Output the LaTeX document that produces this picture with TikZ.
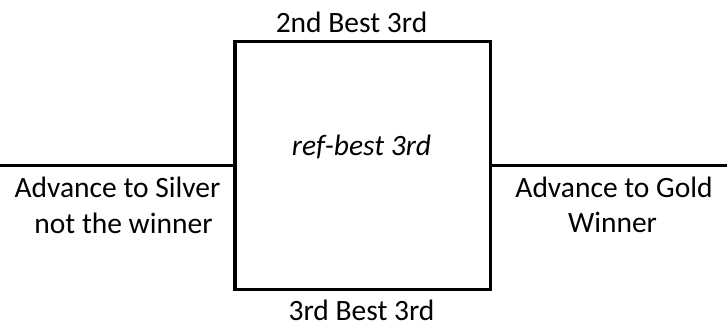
\documentclass[tikz,border=0pt]{standalone}
\usepackage{fontspec}
\setmainfont{Carlito}
\begin{document}
\begin{tikzpicture}[x=1pt,y=-1pt,
  lbl/.style={font=\fontsize{29.5}{36}\selectfont, inner sep=0pt, anchor=base},
  conn/.style={line width=3.2pt}]
\useasboundingbox (0,0) rectangle (727,324);
\node[draw, line width=3.2pt, minimum width=255.5pt, minimum height=248pt, inner sep=0pt] (box) at (362.75,165.4) {};
\coordinate (lend) at (0,165.4);
\coordinate (rend) at (727,165.4);
\draw[conn] (lend) -- (box.west);
\draw[conn] (box.east) -- (rend);
\node[lbl] (top) at (351.5,32) {2nd Best 3rd};
\node[lbl] (bot) at (361.5,320.5) {3rd Best 3rd};
\node[lbl, font=\fontsize{29.5}{36}\selectfont\itshape] (mid) at (361.5,155) {ref-best 3rd};
\node[lbl] (l1) at (117.5,197) {Advance to Silver};
\node[lbl] (l2) at (123.5,233) {not the winner};
\node[lbl] (r1) at (614,197) {Advance to Gold};
\node[lbl] (r2) at (612.5,232.5) {Winner};
\end{tikzpicture}
\end{document}
